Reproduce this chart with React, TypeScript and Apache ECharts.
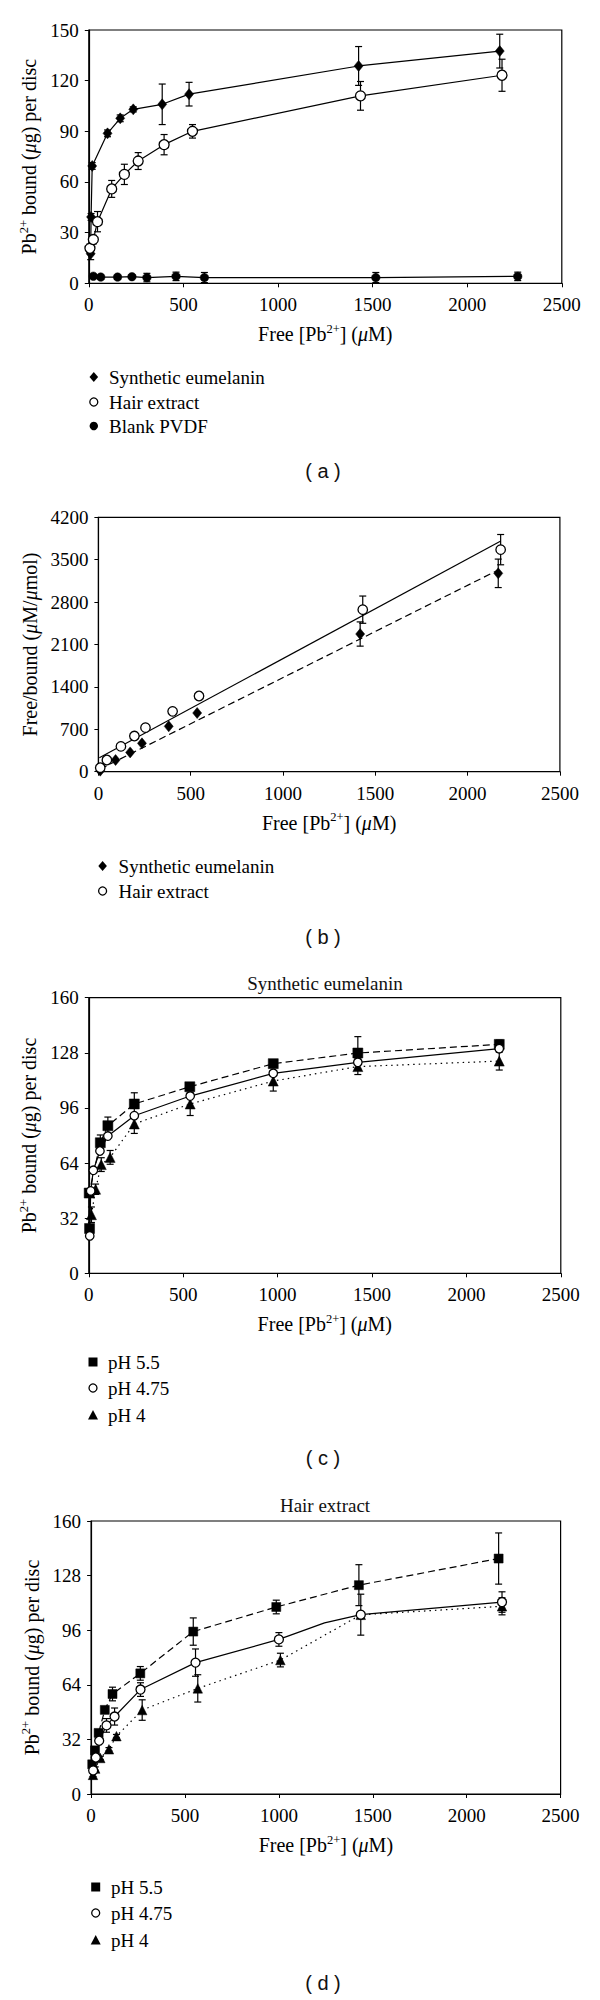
import React, { useEffect, useRef } from "react";
import * as echarts from "echarts";

const SERIF = '"Liberation Serif", "Times New Roman", serif';
const TICKFONT = '"Liberation Serif", "Times New Roman", serif';
const SANS = '"Liberation Sans", Arial, sans-serif';

// ---------- shared axis ----------
const xTicks = [0, 500, 1000, 1500, 2000, 2500];

// ---------- Panel (a) ----------
const aSynX = [10, 12, 18, 99, 166, 235, 388, 530, 1426, 2172];
const aSynY = [17.5, 39.3, 69.5, 88.8, 97.7, 103, 106, 112, 128.7, 137.5];
const aSynErr = [3.5, 2, 2, 2, 2, 1.5, 12, 7, 11.5, 10];

const aHairX = [6, 24, 46, 121, 188, 261, 398, 548, 1436, 2184];
const aHairY = [20.7, 25.9, 36.5, 55.9, 64.5, 72.4, 82.1, 90, 111, 123.2];
const aHairErr = [2.5, 2.5, 6, 5, 6, 5, 6, 4, 8.5, 9.5];

const aBlankX = [24, 63, 152, 228, 307, 461, 611, 1517, 2267];
const aBlankY = [4.2, 3.7, 3.7, 3.9, 3.4, 4.1, 3.4, 3.4, 4.1];
const aBlankErr = [1, 1, 1, 1, 2.5, 2.5, 3, 3, 2.5];

// ---------- Panel (b) ----------
const bSynX = [10, 93, 172, 236, 381, 535, 1418, 2166];
const bSynY = [17, 193, 319, 468, 749, 969, 2273, 3275];
const bSynErr = [0, 0, 0, 0, 0, 0, 200, 235];

const bHairX = [10, 46, 122, 195, 255, 402, 545, 1432, 2179];
const bHairY = [66, 193, 418, 589, 727, 996, 1250, 2675, 3666];
const bHairErr = [0, 0, 0, 0, 0, 0, 0, 225, 250];

const bHairFitX = [5, 2180];
const bHairFitY = [230, 3810];
const bSynFitX = [10, 2166];
const bSynFitY = [45, 3330];

// ---------- Panel (c) Synthetic eumelanin ----------
const c55X = [4, 2, 61, 101, 241, 535, 977, 1425, 2174];
const c55Y = [26, 46.6, 75.8, 85.7, 98.3, 108.3, 121.7, 127.9, 132.9];
const c55Err = [1, 1, 4.5, 5, 6.5, 1, 1.5, 9.5, 2.5];

const c475X = [5, 10, 24, 59, 101, 241, 537, 977, 1425, 2174];
const c475Y = [21.7, 47.8, 59.8, 71, 79.7, 91.5, 102.9, 116.1, 122.5, 130.4];
const c475Err = [1, 1, 1, 1, 1, 1, 1, 1, 1, 1];

const c4X = [14, 36, 66, 113, 241, 537, 977, 1425, 2174];
const c4Y = [34, 48.8, 63.1, 67.3, 86.7, 98.3, 111.6, 120, 123.2];
const c4Err = [4.5, 3, 4, 4, 5.5, 6.7, 5.8, 4.6, 5.2];

// ---------- Panel (d) Hair extract ----------
const d55X = [6, 21, 40, 73, 114, 262, 544, 986, 1426, 2170];
const d55Y = [17.4, 25.6, 35.8, 49.3, 58.6, 70.7, 95.2, 109.6, 122.4, 138];
const d55Err = [1, 1, 1, 1, 4, 4, 8, 4, 12, 15];

const d475X = [11, 25, 43, 82, 125, 263, 556, 1000, 1243, 1436, 2188];
const d475Y = [13.8, 21.4, 31.2, 40.2, 45.4, 61.2, 77, 90.6, 100.3, 105.1, 112.5];
const d475Err = [1, 1, 1, 4, 5, 4, 8, 4, 0, 12, 6];
const d475Marked = [1, 1, 1, 1, 1, 1, 1, 1, 0, 1, 1];

const d4X = [10, 22, 49, 95, 135, 272, 568, 1008, 1436, 2188];
const d4Y = [11.2, 14.9, 21.1, 26.2, 33.9, 49.2, 61.9, 78.5, 105, 110];
const d4Err = [1, 1, 1, 1, 1, 6, 8, 4, 0, 5];

// ---------- layout ----------
const grids = [
  { left: 88.8, top: 30, width: 473, height: 253.3 },
  { left: 98.4, top: 517.3, width: 461.5, height: 254.4 },
  { left: 88.8, top: 997.7, width: 472, height: 275.6 },
  { left: 91.1, top: 1521, width: 469.5, height: 273 },
];

const rich = {
  n: { fontSize: 20, fontFamily: SERIF, color: "#000" },
  i: { fontSize: 20, fontFamily: SERIF, fontStyle: "italic", color: "#000" },
  s: { fontSize: 12.5, fontFamily: SERIF, color: "#000", padding: [0, 0, 11, 0] },
};

const xName = "{n|Free [Pb}{s|2+}{n|] (}{i|μ}{n|M)}";
const yNameBound = "{n|Pb}{s|2+}{n|\u00a0bound (}{i|μ}{n|g) per disc}";
const yNameFree = "{n|Free/bound (}{i|μ}{n|M/}{i|μ}{n|mol)}";

function pts(xs: number[], ys: number[]) {
  return xs.map((x, i) => [x, ys[i]]);
}
function bars(xs: number[], ys: number[], errs: number[]) {
  return xs
    .map((x, i) => [x, ys[i] - errs[i], ys[i] + errs[i]])
    .filter((_, i) => errs[i] > 0);
}

function errSeries(gi: number, items: number[][]) {
  return {
    type: "custom",
    xAxisIndex: gi,
    yAxisIndex: gi,
    z: 1,
    silent: true,
    encode: { x: 0, y: [1, 2] },
    data: items,
    renderItem: (params: any, api: any) => {
      const x = api.value(0);
      const lo = api.value(1);
      const hi = api.value(2);
      const a = api.coord([x, lo]);
      const b = api.coord([x, hi]);
      const w = 3.5;
      const st = { stroke: "#000", lineWidth: 1.2 };
      return {
        type: "group",
        children: [
          { type: "line", shape: { x1: a[0], y1: a[1], x2: b[0], y2: b[1] }, style: st },
          { type: "line", shape: { x1: a[0] - w, y1: a[1], x2: a[0] + w, y2: a[1] }, style: st },
          { type: "line", shape: { x1: b[0] - w, y1: b[1], x2: b[0] + w, y2: b[1] }, style: st },
        ],
      };
    },
  };
}

function lineSeries(
  gi: number,
  name: string,
  data: any[],
  symbol: string,
  size: any,
  fill: string,
  lineType: any,
  showLine = true
) {
  return {
    type: "line",
    name,
    xAxisIndex: gi,
    yAxisIndex: gi,
    data,
    z: 3,
    symbol,
    symbolSize: size,
    showSymbol: true,
    clip: false,
    itemStyle: { color: fill, borderColor: "#000", borderWidth: fill === "#fff" ? 1.3 : 0.5, opacity: 1 },
    lineStyle: showLine
      ? { color: "#000", width: 1.2, type: lineType }
      : { width: 0, opacity: 0 },
    emphasis: { disabled: true },
  };
}

function fitSeries(gi: number, xs: number[], ys: number[], lineType: any) {
  return {
    type: "line",
    xAxisIndex: gi,
    yAxisIndex: gi,
    data: pts(xs, ys),
    symbol: "none",
    z: 2,
    lineStyle: { color: "#000", width: 1.2, type: lineType },
    emphasis: { disabled: true },
  };
}

const plain = (v: number) => String(v);

function xAxis(gi: number) {
  return {
    type: "value",
    gridIndex: gi,
    min: xTicks[0],
    max: xTicks[xTicks.length - 1],
    interval: 500,
    name: xName,
    nameLocation: "middle",
    nameGap: 39,
    nameTextStyle: { rich },
    axisLine: { show: true, lineStyle: { color: "#000", width: 1.2 } },
    axisTick: { show: true, inside: false, length: 4, lineStyle: { color: "#000" } },
    axisLabel: { fontSize: 19, fontFamily: TICKFONT, color: "#000", margin: 12, formatter: plain },
    splitLine: { show: false },
  };
}

function yAxis(gi: number, max: number, interval: number, name: string, gap: number) {
  return {
    type: "value",
    gridIndex: gi,
    min: 0,
    max,
    interval,
    name,
    nameLocation: "middle",
    nameGap: gap,
    nameRotate: 90,
    nameTextStyle: { rich },
    axisLine: { show: true, lineStyle: { color: "#000", width: 1.2 } },
    axisTick: { show: true, inside: false, length: 4, lineStyle: { color: "#000" } },
    axisLabel: { fontSize: 19, fontFamily: TICKFONT, color: "#000", margin: 10, formatter: plain },
    splitLine: { show: false },
  };
}

function legendShape(kind: string, cx: number, cy: number) {
  if (kind === "diamond")
    return {
      type: "polygon",
      shape: { points: [[cx, cy - 5], [cx + 4.3, cy], [cx, cy + 5], [cx - 4.3, cy]] },
      style: { fill: "#000" },
    };
  if (kind === "open")
    return { type: "circle", shape: { cx, cy, r: 4 }, style: { fill: "#fff", stroke: "#000", lineWidth: 1.3 } };
  if (kind === "filled")
    return { type: "circle", shape: { cx, cy, r: 4.2 }, style: { fill: "#000" } };
  if (kind === "square")
    return { type: "rect", shape: { x: cx - 4.5, y: cy - 4.5, width: 9, height: 9 }, style: { fill: "#000" } };
  return {
    type: "polygon",
    shape: { points: [[cx, cy - 5], [cx + 5, cy + 4.5], [cx - 5, cy + 4.5]] },
    style: { fill: "#000" },
  };
}

function legend(mx: number, tx: number, rows: [number, string, string][]) {
  const els: any[] = [];
  rows.forEach(([y, kind, label]) => {
    els.push(legendShape(kind, mx, y));
    els.push({
      type: "text",
      x: tx,
      y,
      style: { text: label, fontSize: 19, fontFamily: SERIF, fill: "#000", textVerticalAlign: "middle" },
    });
  });
  return els;
}

function centerText(text: string, x: number, y: number, font: string, size: number) {
  return {
    type: "text",
    x,
    y,
    style: { text, fontSize: size, fontFamily: font, fill: "#111", textAlign: "center", textVerticalAlign: "middle" },
  };
}

const legendA: [number, string, string][] = [
  [377, "diamond", "Synthetic eumelanin"],
  [402, "open", "Hair extract"],
  [426, "filled", "Blank PVDF"],
];
const legendB: [number, string, string][] = [
  [866, "diamond", "Synthetic eumelanin"],
  [891, "open", "Hair extract"],
];
const legendC: [number, string, string][] = [
  [1362, "square", "pH 5.5"],
  [1388, "open", "pH 4.75"],
  [1415, "triangle", "pH 4"],
];
const legendD: [number, string, string][] = [
  [1887, "square", "pH 5.5"],
  [1913, "open", "pH 4.75"],
  [1940, "triangle", "pH 4"],
];

export default function App() {
  const ref = useRef<HTMLDivElement>(null);
  useEffect(() => {
    if (!ref.current) return;
    const chart = echarts.init(ref.current, null, { renderer: "svg" });
    const dashed = [7, 4];
    const dotted = [1.5, 4];
    const d475Data = d475X.map((x, i) =>
      d475Marked[i] ? [x, d475Y[i]] : { value: [x, d475Y[i]], symbol: "none" }
    );
    chart.setOption({
      animation: false,
      backgroundColor: "#fff",
      grid: grids.map((g) => ({
        ...g,
        show: true,
        borderColor: "#000",
        borderWidth: 1.2,
        backgroundColor: "transparent",
        containLabel: false,
        outerBoundsMode: "none",
      })),
      xAxis: [xAxis(0), xAxis(1), xAxis(2), xAxis(3)],
      yAxis: [
        yAxis(0, 150, 30, yNameBound, 43),
        yAxis(1, 4200, 700, yNameFree, 55),
        yAxis(2, 160, 32, yNameBound, 44),
        yAxis(3, 160, 32, yNameBound, 46),
      ],
      series: [
        // (a)
        errSeries(0, [
          ...bars(aSynX, aSynY, aSynErr),
          ...bars(aHairX, aHairY, aHairErr),
          ...bars(aBlankX, aBlankY, aBlankErr),
        ]),
        lineSeries(0, "Synthetic eumelanin", pts(aSynX, aSynY), "diamond", [9, 11], "#000", "solid"),
        lineSeries(0, "Hair extract", pts(aHairX, aHairY), "circle", 10, "#fff", "solid"),
        lineSeries(0, "Blank PVDF", pts(aBlankX, aBlankY), "circle", 8.5, "#000", "solid"),
        // (b)
        errSeries(1, [...bars(bSynX, bSynY, bSynErr), ...bars(bHairX, bHairY, bHairErr)]),
        fitSeries(1, bHairFitX, bHairFitY, "solid"),
        fitSeries(1, bSynFitX, bSynFitY, dashed),
        lineSeries(1, "Synthetic eumelanin", pts(bSynX, bSynY), "diamond", [9, 11], "#000", "solid", false),
        lineSeries(1, "Hair extract", pts(bHairX, bHairY), "circle", 9.5, "#fff", "solid", false),
        // (c)
        errSeries(2, [
          ...bars(c55X, c55Y, c55Err),
          ...bars(c475X, c475Y, c475Err),
          ...bars(c4X, c4Y, c4Err),
        ]),
        lineSeries(2, "pH 5.5", pts(c55X, c55Y), "rect", 10, "#000", dashed),
        lineSeries(2, "pH 4", pts(c4X, c4Y), "triangle", 10, "#000", dotted),
        lineSeries(2, "pH 4.75", pts(c475X, c475Y), "circle", 8.5, "#fff", "solid"),
        // (d)
        errSeries(3, [
          ...bars(d55X, d55Y, d55Err),
          ...bars(d475X, d475Y, d475Err),
          ...bars(d4X, d4Y, d4Err),
        ]),
        lineSeries(3, "pH 5.5", pts(d55X, d55Y), "rect", 9, "#000", dashed),
        lineSeries(3, "pH 4", pts(d4X, d4Y), "triangle", 9.5, "#000", dotted),
        lineSeries(3, "pH 4.75", d475Data, "circle", 9, "#fff", "solid"),
      ],
      graphic: [
        ...legend(93.8, 109, legendA),
        centerText("( a )", 323, 471, SANS, 20),
        ...legend(102.6, 118.6, legendB),
        centerText("( b )", 323, 937, SANS, 20),
        centerText("Synthetic eumelanin", 325, 983, SERIF, 19),
        ...legend(93, 108, legendC),
        centerText("( c )", 323, 1458, SANS, 20),
        centerText("Hair extract", 325, 1505, SERIF, 19),
        ...legend(95.7, 111, legendD),
        centerText("( d )", 323, 1983, SANS, 20),
      ],
    });
    return () => chart.dispose();
  }, []);
  return (
    <div
      ref={ref}
      style={{ position: "absolute", left: 0, top: 0, width: 600, height: 2000, background: "#fff" }}
    />
  );
}
